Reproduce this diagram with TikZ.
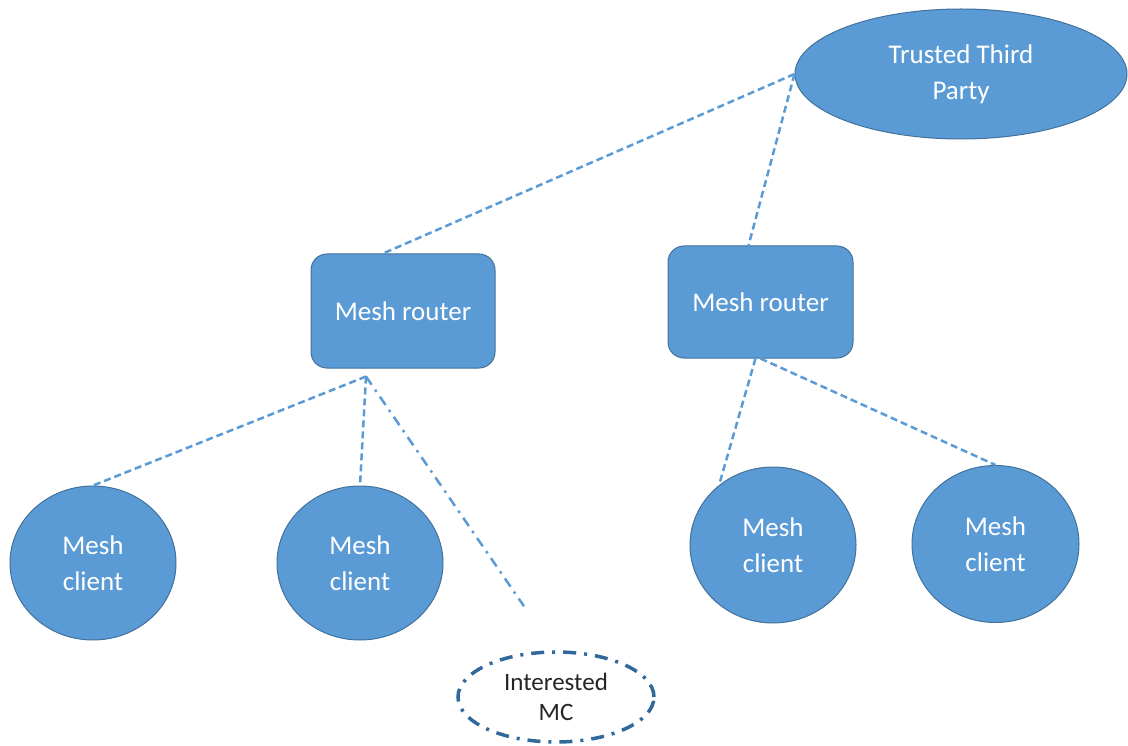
\documentclass[tikz,border=0pt]{standalone}
\usepackage{fontspec}
\setmainfont{Carlito}
\usetikzlibrary{shapes.geometric}
\definecolor{nodefill}{HTML}{5B9BD5}
\definecolor{nodeline}{HTML}{41719C}
\definecolor{mcline}{HTML}{31699B}
\tikzset{
  blob/.style={ellipse, fill=nodefill, draw=nodeline, line width=1pt, inner sep=0pt,
    text=white, align=center, font=\fontsize{27}{36}\selectfont},
  routerbox/.style={rectangle, rounded corners=16pt, fill=nodefill, draw=nodeline, line width=1pt,
    inner sep=0pt, text=white, align=center, font=\fontsize{27}{36}\selectfont},
  conn/.style={draw=nodefill, line width=2.5pt, dash pattern=on 7pt off 4pt},
  dotconn/.style={draw=nodefill, line width=2.5pt, dash pattern=on 10pt off 6pt on 2.5pt off 6pt},
  mcnode/.style={ellipse, fill=white, draw=mcline, line width=3.5pt,
    dash pattern=on 13pt off 8pt on 3pt off 8pt, inner sep=0pt, text=black!85,
    align=center, font=\fontsize{25}{30}\selectfont}
}
\begin{document}
\begin{tikzpicture}[x=1pt,y=-1pt]
\useasboundingbox (0,0) rectangle (1128,746);
\fill[white] (0,0) rectangle (1128,746);
\node[blob, minimum width=332pt, minimum height=130pt] (ttp) at (961,74) {Trusted Third\\Party};
\node[routerbox, minimum width=184pt, minimum height=114pt] (r1) at (403,311) {Mesh router};
\node[routerbox, minimum width=185pt, minimum height=112pt] (r2) at (760.5,302) {Mesh router};
\node[blob, minimum width=166pt, minimum height=154pt] (c1) at (93,563) {Mesh\\client};
\node[blob, minimum width=166pt, minimum height=154pt] (c2) at (360,563) {Mesh\\client};
\node[blob, minimum width=166pt, minimum height=156pt] (c3) at (773,545) {Mesh\\client};
\node[blob, minimum width=167pt, minimum height=157pt] (c4) at (995.5,544) {Mesh\\client};
\node[mcnode, minimum width=196pt, minimum height=90pt] (mc) at (556,697) {Interested\\MC};
\coordinate (h1) at ([xshift=-37pt,yshift=-8pt]r1.south);
\coordinate (mcend) at ([xshift=-32pt,yshift=44pt]mc.north);
\draw[conn] (ttp.west) -- ([xshift=-20pt]r1.north);
\draw[conn] (ttp.west) -- ([xshift=-12pt]r2.north);
\draw[conn] (h1) -- (c1.north);
\draw[conn] (h1) -- (c2.north);
\draw[dotconn] (h1) -- (mcend);
\draw[conn] ([xshift=-5pt]r2.south) -- (c3.132);
\draw[conn] (r2.south) -- (c4.north);
\end{tikzpicture}
\end{document}
